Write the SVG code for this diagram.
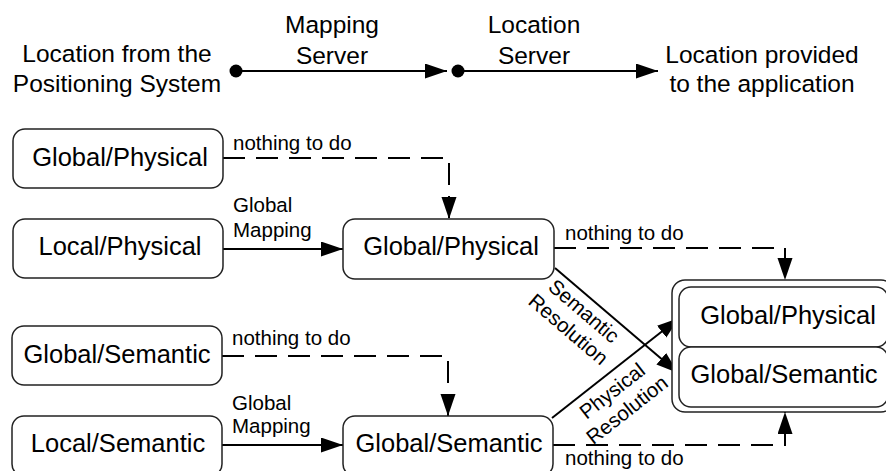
<svg xmlns="http://www.w3.org/2000/svg" width="886" height="471" viewBox="0 0 886 471">
  <style>
    text { font-family: "Liberation Sans", Arial, sans-serif; fill: #000; }
    .head { font-size: 24.5px; text-anchor: middle; }
    .node-label { font-size: 25.5px; text-anchor: middle; }
    .edge-label { font-size: 20.5px; }
    .box { fill: #fff; stroke: #222; stroke-width: 1.5; }
    .flow { fill: none; stroke: #000; stroke-width: 2; }
    .dashed { stroke-dasharray: 22 11; }
  </style>
  <defs>
    <marker id="arrow" markerUnits="userSpaceOnUse" markerWidth="24" markerHeight="16" refX="22" refY="7.5" orient="auto">
      <path d="M0,0 L22,7.5 L0,15 Z" fill="#000"/>
    </marker>
  </defs>

  <rect width="886" height="471" fill="#fff"/>

  <!-- Header: processing chain -->
  <g id="header">
    <text class="head" x="117" y="62">Location from the</text>
    <text class="head" x="117" y="92">Positioning System</text>
    <text class="head" x="332" y="33">Mapping</text>
    <text class="head" x="332" y="64">Server</text>
    <text class="head" x="534" y="33">Location</text>
    <text class="head" x="534" y="64">Server</text>
    <text class="head" x="762" y="63">Location provided</text>
    <text class="head" x="762" y="92">to the application</text>
    <circle cx="236" cy="71" r="6.5" fill="#000"/>
    <path class="flow" d="M236,71 H447" marker-end="url(#arrow)"/>
    <circle cx="458" cy="71" r="6.5" fill="#000"/>
    <path class="flow" d="M458,71 H658" marker-end="url(#arrow)"/>
  </g>

  <!-- Connectors -->
  <g id="connectors">
    <path class="flow dashed" d="M223,158 H449 V219" marker-end="url(#arrow)"/>
    <text class="edge-label" x="233" y="150">nothing to do</text>

    <path class="flow" d="M223,249 H343" marker-end="url(#arrow)"/>
    <text class="edge-label" x="233" y="212">Global</text>
    <text class="edge-label" x="233" y="237">Mapping</text>

    <path class="flow dashed" d="M222,356 H448 V416" marker-end="url(#arrow)"/>
    <text class="edge-label" x="232" y="345">nothing to do</text>

    <path class="flow" d="M222,445 H343" marker-end="url(#arrow)"/>
    <text class="edge-label" x="232" y="410">Global</text>
    <text class="edge-label" x="232" y="433">Mapping</text>

    <path class="flow dashed" d="M554,248 H785 V280" marker-end="url(#arrow)"/>
    <text class="edge-label" x="565" y="240">nothing to do</text>

    <path class="flow dashed" d="M553,445 H785 V412" marker-end="url(#arrow)"/>
    <text class="edge-label" x="565" y="465">nothing to do</text>

    <path class="flow" d="M555,268 L678,373" marker-end="url(#arrow)"/>
    <g transform="translate(555,268) rotate(40.5)">
      <text class="edge-label" x="50" y="21" text-anchor="middle">Semantic</text>
      <text class="edge-label" x="50" y="45" text-anchor="middle">Resolution</text>
    </g>

    <path class="flow" d="M552,418 L679,318" marker-end="url(#arrow)"/>
    <g transform="translate(552,418) rotate(-38.2)">
      <text class="edge-label" x="64" y="23" text-anchor="middle">Physical</text>
      <text class="edge-label" x="64" y="47" text-anchor="middle">Resolution</text>
    </g>
  </g>

  <!-- Input locations -->
  <g id="in-global-physical">
    <rect class="box" x="13" y="129" width="210" height="59" rx="12"/>
    <text class="node-label" x="120" y="166">Global/Physical</text>
  </g>
  <g id="in-local-physical">
    <rect class="box" x="13" y="219" width="210" height="59" rx="12"/>
    <text class="node-label" x="120" y="255">Local/Physical</text>
  </g>
  <g id="in-global-semantic">
    <rect class="box" x="12" y="326" width="210" height="59" rx="12"/>
    <text class="node-label" x="117" y="363">Global/Semantic</text>
  </g>
  <g id="in-local-semantic">
    <rect class="box" x="12" y="416" width="210" height="60" rx="12"/>
    <text class="node-label" x="118" y="452">Local/Semantic</text>
  </g>

  <!-- Mapping server output -->
  <g id="mapped-global-physical">
    <rect class="box" x="343" y="219" width="211" height="60" rx="12"/>
    <text class="node-label" x="451" y="255">Global/Physical</text>
  </g>
  <g id="mapped-global-semantic">
    <rect class="box" x="343" y="416" width="210" height="60" rx="12"/>
    <text class="node-label" x="449" y="452">Global/Semantic</text>
  </g>

  <!-- Location server output -->
  <g id="provided-location">
    <rect class="box" x="672" y="280" width="222" height="132" rx="13"/>
    <g id="provided-global-physical">
      <rect class="box" x="679" y="287" width="209" height="60" rx="12"/>
      <text class="node-label" x="788" y="324">Global/Physical</text>
    </g>
    <g id="provided-global-semantic">
      <rect class="box" x="679" y="347" width="209" height="60" rx="12"/>
      <text class="node-label" x="784" y="383">Global/Semantic</text>
    </g>
  </g>
</svg>
